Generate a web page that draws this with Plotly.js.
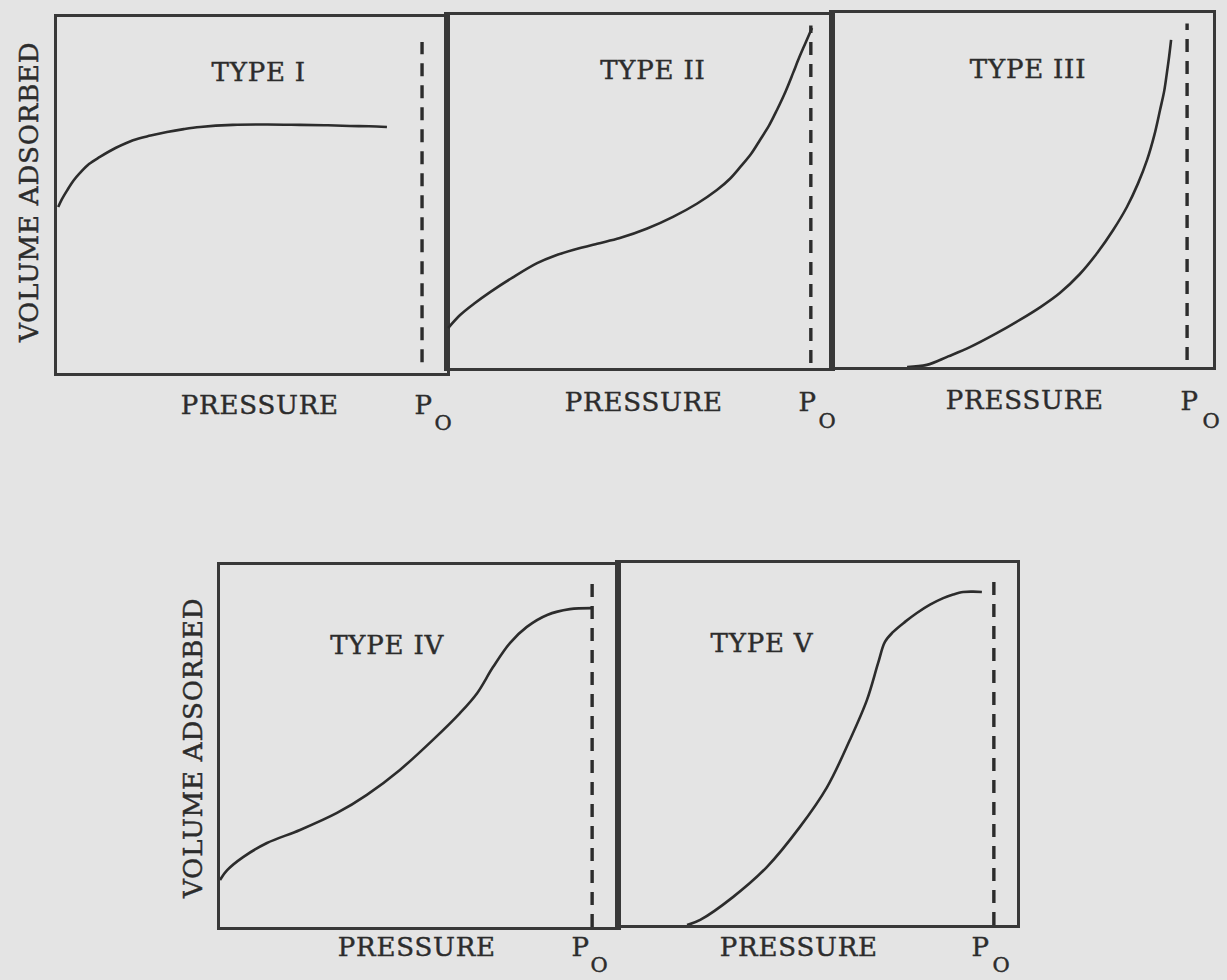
<!DOCTYPE html>
<html>
<head>
<meta charset="utf-8">
<script src="https://cdn.plot.ly/plotly-3.0.1.min.js"></script>
<style>
html,body{margin:0;padding:0;background:#e4e4e4;}
#chart .annotation-text{letter-spacing:0.8px;stroke:#2c2c2c;stroke-width:0.45px;}
</style>
</head>
<body>
<div id="chart" style="width:1227px;height:980px;"></div>
<script>
// ---- data (normalised pressure / volume) ----
const panelNames = ["TYPE I", "TYPE II", "TYPE III", "TYPE IV", "TYPE V"];

const type1X = [0.003, 0.012, 0.026, 0.042, 0.059, 0.082, 0.110, 0.150, 0.195, 0.240, 0.282, 0.325, 0.367, 0.451, 0.540, 0.623, 0.690, 0.751, 0.800, 0.846];
const type1Y = [0.466, 0.487, 0.513, 0.540, 0.562, 0.587, 0.607, 0.632, 0.654, 0.667, 0.677, 0.685, 0.691, 0.697, 0.698, 0.697, 0.696, 0.694, 0.693, 0.691];

const type2X = [0.003, 0.034, 0.070, 0.112, 0.170, 0.234, 0.280, 0.327, 0.390, 0.449, 0.520, 0.587, 0.650, 0.701, 0.735, 0.763, 0.790, 0.813, 0.837, 0.857, 0.880, 0.899, 0.915, 0.930, 0.948];
const type2Y = [0.113, 0.150, 0.182, 0.215, 0.256, 0.297, 0.318, 0.334, 0.352, 0.368, 0.395, 0.428, 0.466, 0.504, 0.536, 0.571, 0.607, 0.646, 0.688, 0.731, 0.785, 0.836, 0.880, 0.918, 0.963];

const type3X = [0.197, 0.249, 0.305, 0.362, 0.430, 0.493, 0.548, 0.598, 0.650, 0.696, 0.738, 0.774, 0.803, 0.827, 0.846, 0.861, 0.872, 0.879, 0.885, 0.890];
const type3Y = [0.000, 0.006, 0.030, 0.056, 0.094, 0.133, 0.170, 0.209, 0.262, 0.322, 0.387, 0.452, 0.518, 0.585, 0.655, 0.726, 0.780, 0.831, 0.878, 0.924];

const type4X = [0.000, 0.018, 0.058, 0.118, 0.201, 0.294, 0.369, 0.452, 0.535, 0.603, 0.646, 0.686, 0.729, 0.771, 0.822, 0.879, 0.935];
const type4Y = [0.130, 0.157, 0.193, 0.232, 0.268, 0.315, 0.365, 0.434, 0.517, 0.591, 0.646, 0.718, 0.785, 0.829, 0.862, 0.878, 0.881];

const type5X = [0.173, 0.206, 0.288, 0.373, 0.456, 0.524, 0.581, 0.624, 0.652, 0.669, 0.689, 0.720, 0.749, 0.782, 0.815, 0.840, 0.865, 0.890, 0.912];
const type5Y = [0.000, 0.014, 0.077, 0.160, 0.271, 0.381, 0.511, 0.622, 0.724, 0.782, 0.809, 0.838, 0.862, 0.885, 0.903, 0.913, 0.920, 0.921, 0.920];

// saturation pressure P0 (dashed line) per panel, and its drawn extent
const p0X    = [0.936, 0.945, 0.932, 0.935, 0.942];
const p0Low  = [0.03, 0.014, 0.02, 0.0, 0.0];
const p0High = [0.93, 0.97, 0.97, 0.967, 0.972];

const xLabel = "PRESSURE";
const yLabel = "VOLUME ADSORBED";
const p0Main = "P";
const p0Sub = "O";

// ---- layout geometry (pixels) ----
const W = 1227, H = 980;
const frames = [ // [left, right, top, bottom]
  [57, 447, 17, 373],
  [447, 832, 15, 368],
  [832, 1213, 13, 367],
  [220, 618, 565, 927],
  [618, 1017, 563, 925]
];
const typePos = [[259, 72], [653, 70], [1028, 69], [388, 645], [762, 643]];
const pressPos = [[260, 405], [644, 402], [1025, 400], [417, 947], [799, 947]];
const pPos = [[424, 405], [808, 402], [1190, 401], [581, 947], [981, 947]];
const oPos = [[443, 423], [827, 421], [1211, 421], [599, 965], [1001, 965]];
const volPos = [[29, 192], [193, 748]];

const px = x => x / W;
const py = y => 1 - y / H;

const ink = "#2c2c2c";
const frameInk = "#383838";
const fontFam = "DejaVu Serif";
const fs = 26;

const seriesX = [type1X, type2X, type3X, type4X, type5X];
const seriesY = [type1Y, type2Y, type3Y, type4Y, type5Y];

const traces = [];
const layout = {
  width: W, height: H,
  margin: {l: 0, r: 0, t: 0, b: 0},
  paper_bgcolor: "#e4e4e4",
  plot_bgcolor: "#e4e4e4",
  showlegend: false,
  font: {family: fontFam, color: ink},
  annotations: []
};

for (let i = 0; i < 5; i++) {
  const n = i + 1;
  const xa = n === 1 ? "x" : "x" + n;
  const ya = n === 1 ? "y" : "y" + n;
  traces.push({
    type: "scatter", mode: "lines", x: seriesX[i], y: seriesY[i],
    xaxis: xa, yaxis: ya, hoverinfo: "skip",
    line: {color: ink, width: 2.6, shape: "spline", smoothing: 1}
  });
  traces.push({
    type: "scatter", mode: "lines", x: [p0X[i], p0X[i]], y: [p0Low[i], p0High[i]],
    xaxis: xa, yaxis: ya, hoverinfo: "skip",
    line: {color: ink, width: 3.4, dash: "13px,9px"}
  });
  const f = frames[i];
  const axCommon = {
    range: [0, 1], showline: true, mirror: true, linecolor: frameInk,
    linewidth: 3, showgrid: false, zeroline: false,
    showticklabels: false, ticks: "", fixedrange: true
  };
  layout["xaxis" + (n === 1 ? "" : n)] = Object.assign({}, axCommon, {
    domain: [px(f[0]), px(f[1])], anchor: ya
  });
  layout["yaxis" + (n === 1 ? "" : n)] = Object.assign({}, axCommon, {
    domain: [py(f[3]), py(f[2])], anchor: xa
  });

  const txt = (text, pos, size) => ({
    text: text, xref: "paper", yref: "paper", x: px(pos[0]), y: py(pos[1]),
    xanchor: "center", yanchor: "middle", showarrow: false,
    font: {family: fontFam, size: size, color: ink}
  });
  layout.annotations.push(txt(panelNames[i], typePos[i], fs));
  layout.annotations.push(txt(xLabel, pressPos[i], fs));
  layout.annotations.push(txt(p0Main, pPos[i], fs));
  layout.annotations.push(txt(p0Sub, oPos[i], 21));
}
volPos.forEach(p => {
  layout.annotations.push({
    text: yLabel, xref: "paper", yref: "paper", x: px(p[0]), y: py(p[1]),
    xanchor: "center", yanchor: "middle", showarrow: false, textangle: -90,
    font: {family: fontFam, size: fs, color: ink}
  });
});

Plotly.newPlot("chart", traces, layout, {staticPlot: true});
</script>
</body>
</html>
